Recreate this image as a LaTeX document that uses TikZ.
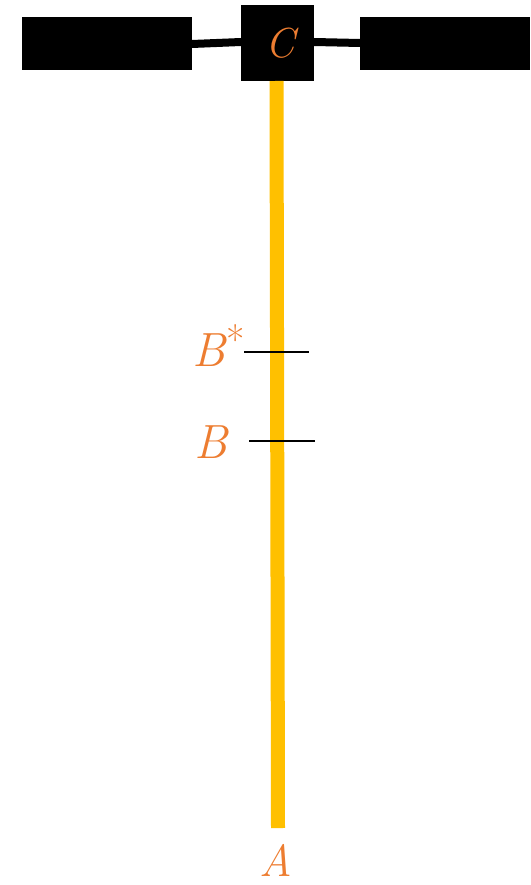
\documentclass[tikz,border=0pt]{standalone}
\usepackage{fontspec}
\definecolor{lblorange}{HTML}{ED7D31}
\definecolor{rodyellow}{HTML}{FFC000}
\begin{document}
\begin{tikzpicture}[x=1pt,y=-1pt,
  blackbox/.style={fill=black,draw=none,inner sep=0pt,outer sep=0pt},
  lbl/.style={text=lblorange,inner sep=0pt,font=\fontsize{48}{52}\selectfont\itshape},
  conn/.style={line width=8pt,black},
  tick/.style={line width=2pt,black}]
\useasboundingbox (0,0) rectangle (530,885);
\node[blackbox,minimum width=170pt,minimum height=53pt] (L) at (107,43.5) {};
\node[blackbox,minimum width=170pt,minimum height=53pt] (R) at (445,43.5) {};
\node[blackbox,minimum width=73pt,minimum height=76pt] (C) at (277.5,43) {};
\node[lbl,font=\fontsize{42}{46}\selectfont\itshape] (Ct) at (280,43) {C};
\coordinate (Lc) at (192,44);
\coordinate (Cl) at (241,42);
\coordinate (Cr) at (314,42);
\coordinate (Rc) at (360,43);
\draw[conn] (Lc) -- (Cl);
\draw[conn] (Cr) -- (Rc);
\coordinate (Abot) at (278,828);
\draw[rodyellow,line width=14pt] (C.south) ++(-1,0) coordinate (Ctop) -- (Abot);
\coordinate (BsL) at (244,352);
\coordinate (BsR) at (309,352);
\coordinate (BL) at (249,441);
\coordinate (BR) at (315,441);
\draw[tick] (BsL) -- (BsR);
\draw[tick] (BL) -- (BR);
\node[lbl,anchor=base west] (Bs) at (192,366) {B\kern1pt\raisebox{0.25em}{\fontsize{40}{42}\selectfont\upshape *}};
\node[lbl,anchor=base west] (B) at (194,458) {B};
\node[lbl,anchor=base,font=\fontsize{45}{48}\selectfont\itshape] (A) at (276,876) {A};
\end{tikzpicture}
\end{document}
